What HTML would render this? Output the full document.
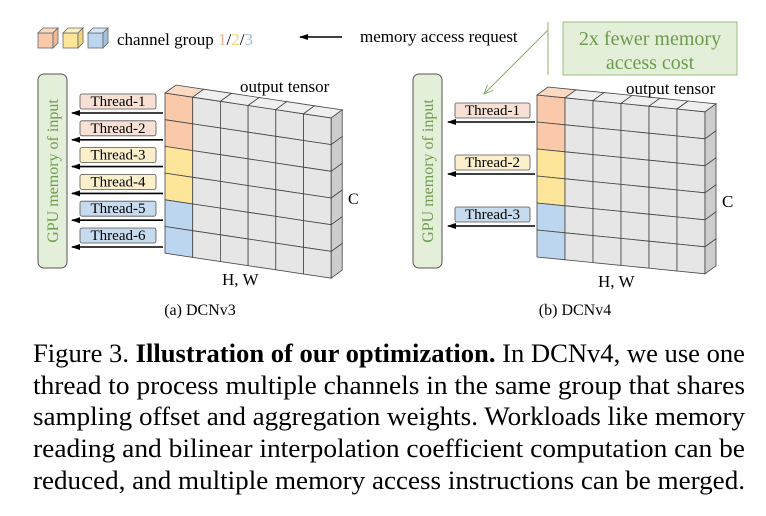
<!DOCTYPE html>
<html><head><meta charset="utf-8"><style>
html,body{margin:0;padding:0;background:#fff;}
svg{display:block;}
text{font-family:"Liberation Serif","Times New Roman",Times,serif;}
</style></head><body>
<svg id="s" width="766" height="516" viewBox="0 0 766 516" xmlns="http://www.w3.org/2000/svg" font-family="Liberation Serif, Times New Roman, Times, serif">
<defs>
<marker id="ah" markerWidth="9" markerHeight="8" refX="8" refY="4" orient="auto" markerUnits="userSpaceOnUse"><path d="M0,1 L9,4 L0,7 z" fill="#000"/></marker>
<marker id="ag" markerWidth="10" markerHeight="10" refX="9" refY="5" orient="auto" markerUnits="userSpaceOnUse"><path d="M0,1 L9,5 L0,9" fill="none" stroke="#8fb06f" stroke-width="1"/></marker>
</defs>
<g id="legend">
</g>
<text x="117" y="45" font-size="17">channel group <tspan fill="#f0b58f">1</tspan>/<tspan fill="#f2d57a">2</tspan>/<tspan fill="#9dbcd8">3</tspan></text>
<line x1="342" y1="37" x2="300" y2="37" stroke="#000" stroke-width="1.5" marker-end="url(#ah)"/>
<text x="360" y="42" font-size="17">memory access request</text>
<line x1="548" y1="22" x2="548" y2="75" stroke="#8fb06f" stroke-width="1"/>
<line x1="548" y1="30" x2="484" y2="94" stroke="#8fb06f" stroke-width="1" marker-end="url(#ag)"/>
<rect x="563" y="22" width="174" height="53" fill="#e3efd8" stroke="#9bbf84" stroke-width="1"/>
<text x="650" y="45" font-size="20" fill="#6e9a4e" text-anchor="middle">2x fewer memory</text>
<text x="650" y="69" font-size="20" fill="#6e9a4e" text-anchor="middle">access cost</text>
<rect x="38" y="74" width="29" height="194" rx="6" fill="#e3efd8" stroke="#555" stroke-width="1"/>
<text transform="translate(58,171) rotate(-90)" font-size="16" fill="#6e9a4e" text-anchor="middle">GPU memory of input</text>
<rect x="413" y="74" width="29" height="194" rx="6" fill="#e3efd8" stroke="#555" stroke-width="1"/>
<text transform="translate(433,171) rotate(-90)" font-size="16" fill="#6e9a4e" text-anchor="middle">GPU memory of input</text>
<g id="g"></g>
<text x="240" y="92" font-size="17">output tensor</text>
<text x="348" y="204" font-size="16">C</text>
<text x="222" y="285" font-size="17">H, W</text>
<text x="200" y="315" font-size="16" text-anchor="middle">(a) DCNv3</text>
<text x="626" y="94" font-size="17">output tensor</text>
<text x="722" y="207" font-size="17">C</text>
<text x="598" y="287" font-size="17">H, W</text>
<text x="575" y="315" font-size="16" text-anchor="middle">(b) DCNv4</text>
<g font-size="26">
<text x="33" y="362" textLength="712" lengthAdjust="spacingAndGlyphs">Figure 3. <tspan font-weight="bold">Illustration of our optimization.</tspan> In DCNv4, we use one</text>
<text x="33" y="394" textLength="712" lengthAdjust="spacingAndGlyphs">thread to process multiple channels in the same group that shares</text>
<text x="33" y="425" textLength="712" lengthAdjust="spacingAndGlyphs">sampling offset and aggregation weights. Workloads like memory</text>
<text x="33" y="457" textLength="712" lengthAdjust="spacingAndGlyphs">reading and bilinear interpolation coefficient computation can be</text>
<text x="33" y="489" textLength="712" lengthAdjust="spacingAndGlyphs">reduced, and multiple memory access instructions can be merged.</text>
</g>
</svg>
<script>
var NS="http://www.w3.org/2000/svg";
var g=document.getElementById('g');
function el(t,a,p){var e=document.createElementNS(NS,t);for(var k in a)e.setAttribute(k,a[k]);(p||g).appendChild(e);return e;}
function poly(pts,fill){el('polygon',{points:pts.map(function(p){return p[0].toFixed(1)+','+p[1].toFixed(1)}).join(' '),fill:fill,stroke:'#444','stroke-width':0.8});}
var C={o:['#f9c9aa','#fbd9c3','#f0b896'],y:['#fde59a','#fdf0c2','#efd37c'],b:['#bcd6ef','#d6e6f5','#a4c2de'],g:['#e6e6e6','#efefef','#cdcdcd']};
function tensor(x0,yt,cw,rh,s,grp){
 var dx=11,dy=-8;
 function P(c,r){var x=x0+c*cw;return [x,yt+r*rh+(x-x0)*s];}
 for(var c=0;c<6;c++)for(var r=0;r<6;r++){
  var col=c==0?C[grp[r]]:C.g;
  var a=P(c,r),b=P(c+1,r),d=P(c+1,r+1),e=P(c,r+1);
  poly([a,b,d,e],col[0]);
  if(r==0)poly([a,b,[b[0]+dx,b[1]+dy],[a[0]+dx,a[1]+dy]],col[1]);
  if(c==5)poly([b,[b[0]+dx,b[1]+dy],[d[0]+dx,d[1]+dy],d],col[2]);
 }
}
tensor(165,93,27.7,26.7,0.15,['o','o','y','y','b','b']);
tensor(537,95,28,27,0.1,['o','o','y','y','b','b']);
var F={o:'#f8e0d4',y:'#fbefcc',b:'#c6dbee'};
function thread(x,y,w,lbl,f,ay,ax1,ax2){
 el('rect',{x:x,y:y,width:w,height:15,rx:2,fill:f,stroke:'#555','stroke-width':0.8});
 var t=el('text',{x:x+w/2,y:y+12,'font-size':15,'text-anchor':'middle'});t.textContent=lbl;
 el('line',{x1:ax1,y1:ay,x2:ax2,y2:ay,stroke:'#000','stroke-width':1.6,'marker-end':'url(#ah)'});
}
var grp=['o','o','y','y','b','b'];
for(var i=0;i<6;i++){var y=94+i*26.8;thread(80,y,76,'Thread-'+(i+1),F[grp[i]],y+19,163,72);}
var ys=[103,155,207],gg=['o','y','b'];
for(var i=0;i<3;i++)thread(455,ys[i],75,'Thread-'+(i+1),F[gg[i]],ys[i]+19,535,448);
var L=document.getElementById('legend');
var lc=[[38,'o'],[63,'y'],[88,'b']];
lc.forEach(function(q){var x=q[0],y=33,w=15,d=5,c=C[q[1]];
 el('rect',{x:x,y:y,width:w,height:15,fill:c[0],stroke:'#666','stroke-width':0.8},L);
 el('polygon',{points:x+','+y+' '+(x+d)+','+(y-d)+' '+(x+w+d)+','+(y-d)+' '+(x+w)+','+y,fill:c[1],stroke:'#666','stroke-width':0.8},L);
 el('polygon',{points:(x+w)+','+y+' '+(x+w+d)+','+(y-d)+' '+(x+w+d)+','+(y+15-d)+' '+(x+w)+','+(y+15),fill:c[2],stroke:'#666','stroke-width':0.8},L);
});
</script>
</body></html>
